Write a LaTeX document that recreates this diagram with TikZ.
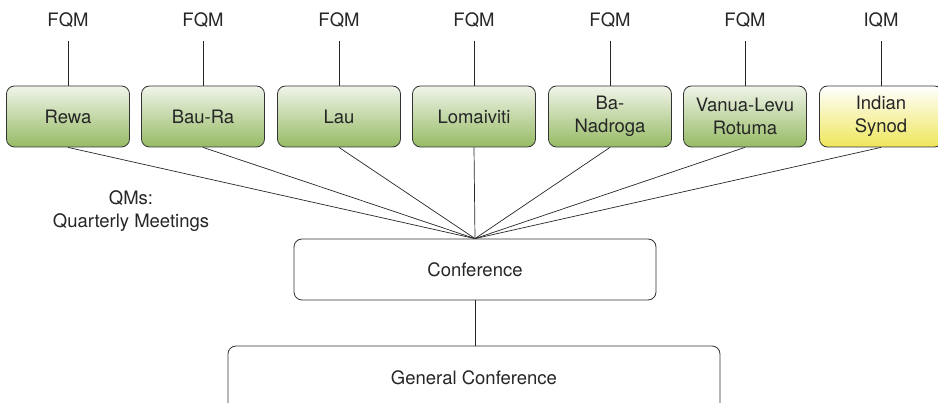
\documentclass[tikz,border=0pt]{standalone}
\usepackage{fontspec}
\setmainfont{TeX Gyre Heros}
\begin{document}
\begin{tikzpicture}[x=1pt,y=-1pt,
  txt/.style={font=\fontsize{18.5}{22.5}\selectfont, text=black!85},
  qbox/.style={txt, draw=black!80, line width=0.8pt, rounded corners=8pt,
    minimum width=123pt, minimum height=61pt, align=center, inner sep=1pt},
  green/.style={qbox, top color={rgb,255:red,240;green,244;blue,234}, bottom color={rgb,255:red,150;green,187;blue,100}},
  yellow/.style={qbox, top color=white, bottom color={rgb,255:red,238;green,230;blue,90}},
  plainbox/.style={qbox, fill=white},
  conn/.style={draw=black!85, line width=0.7pt}]
\useasboundingbox (0,0) rectangle (938,403);
\clip (0,0) rectangle (938,403);
\foreach \n/\x/\t/\s/\q in {rewa/68/Rewa/green/FQM, baura/203/Bau-Ra/green/FQM, lau/339/Lau/green/FQM,
  lomai/474/Lomaiviti/green/FQM, bana/610/Ba-\\Nadroga/green/FQM, vanua/745/Vanua-Levu\\Rotuma/green/FQM,
  indian/881/Indian\\Synod/yellow/IQM}{
  \node[\s] (\n) at (\x,116.5) {\t};
  \node[txt, anchor=base] (\n q) at (\x,26.5) {\q};
  \coordinate (\n t) at (\x,41);
  \draw[conn] (\n t) -- (\n.north);
}
\node[plainbox, minimum width=362pt] (conf) at (475,269.5) {Conference};
\node[plainbox, minimum width=492pt, minimum height=80pt] (gen) at (474,386) {};
\node[txt] (gent) at (474,378) {General Conference};
\foreach \n in {rewa,baura,lau,lomai,bana,vanua,indian}{
  \draw[conn] (\n.south) -- (conf.north);
}
\draw[conn] (conf.south) -- (gen.north -| conf.south);
\node[txt, align=center] (qms) at (131,211) {QMs:\\Quarterly Meetings};
\end{tikzpicture}
\end{document}
